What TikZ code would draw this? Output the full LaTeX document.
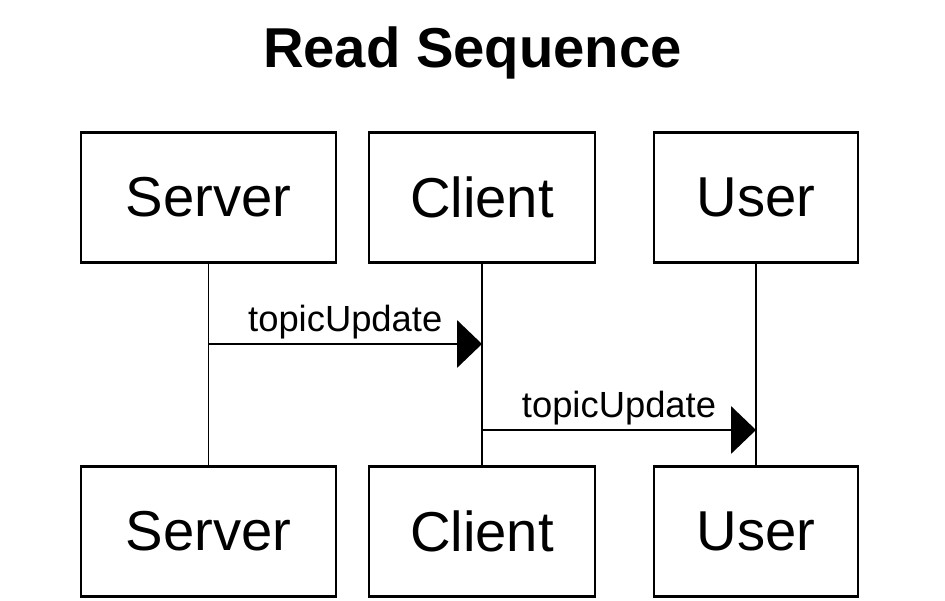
\documentclass[tikz,border=0pt]{standalone}
\usepackage{fontspec}
\setmainfont{Liberation Sans}
\usetikzlibrary{arrows.meta}

\begin{document}
\begin{tikzpicture}[
  actor/.style={rectangle, draw, line width=1.3pt, minimum height=2.6cm,
                minimum width=#1, font=\fontsize{32}{36}\selectfont},
  actor/.default={4.5cm},
  life/.style={line width=1.1pt},
  msg/.style={line width=1.1pt, -{Triangle[length=5mm,width=9.5mm]}},
  msglabel/.style={midway, anchor=base, yshift=0.25cm, inner sep=0pt,
                   font=\fontsize{20.7}{24}\selectfont}
]
  \useasboundingbox (0, 0) rectangle (18.9, 12.02);

  % Title
  \node[anchor=base, font=\bfseries\fontsize{32}{38}\selectfont] (title)
    at (9.45, 10.66) {Read Sequence};

  % Participants, top row
  \node[actor=5.1cm] (srvT) at (4.17, 8.07) {Server};
  \node[actor=4.52cm] (cliT) at (9.64, 8.07) {Client};
  \node[actor=4.08cm] (usrT) at (15.12, 8.07) {User};

  % Participants, bottom row
  \node[actor=5.1cm] (srvB) at (4.17, 1.39) {Server};
  \node[actor=4.52cm] (cliB) at (9.64, 1.39) {Client};
  \node[actor=4.08cm] (usrB) at (15.12, 1.39) {User};

  % Lifelines
  \draw[life] (srvT) -- (srvB);
  \draw[life] (cliT) -- (cliB);
  \draw[life] (usrT) -- (usrB);

  % Messages
  \coordinate (m1s) at (4.17, 5.14);
  \coordinate (m1e) at (9.64, 5.14);
  \coordinate (m2e) at (15.12, 3.42);
  \coordinate (m2s) at (9.64, 3.42);
  \draw[msg] (m1s) -- (m1e) node[msglabel] {topicUpdate};
  \draw[msg] (m2s) -- (m2e) node[msglabel] {topicUpdate};
\end{tikzpicture}
\end{document}
